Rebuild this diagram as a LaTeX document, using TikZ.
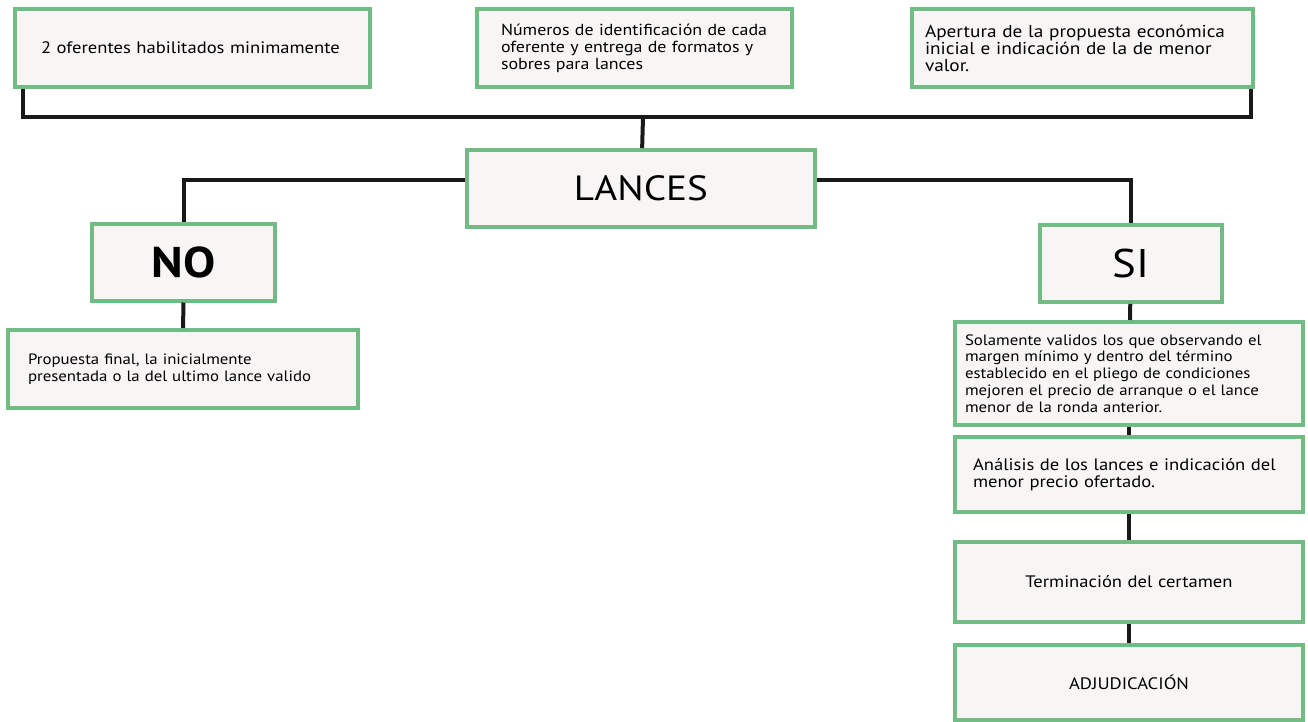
\documentclass[tikz,border=0pt]{standalone}
\usepackage{fontspec}
\setmainfont[FakeStretch=1.12]{PT Sans}
\definecolor{verde}{RGB}{112,188,132}
\definecolor{fondo}{RGB}{248,245,245}
\tikzset{
  caja/.style={draw=verde, line width=4pt, fill=fondo, inner ysep=3pt,
    font=\fontsize{15}{16.8}\selectfont},
  grande/.style={font=\fontsize{16.6}{17}\selectfont},
  linea/.style={line width=4pt, black!90},
}
\begin{document}
\begin{tikzpicture}[x=1pt, y=-1pt]
  \useasboundingbox[fill=white] (0,0) rectangle (1308,722);
  % fila superior
  \node[caja, grande, minimum height=78pt, inner xsep=26pt, text width=303pt, align=left]
    (oferentes) at (192.5,48) {2 oferentes habilitados minimamente};
  \node[caja, minimum height=78pt, inner xsep=24pt, text width=267pt, align=left,
    font=\fontsize{16}{17}\selectfont]
    (numeros) at (634.5,48) {Números de identificación de cada\\oferente y entrega de formatos y\\sobres para lances};
  \node[caja, minimum height=78pt, inner xsep=13pt, text width=315pt, align=left,
    font=\fontsize{17.2}{17}\selectfont]
    (apertura) at (1082.5,48) {Apertura de la propuesta económica\\inicial e indicación de la de menor\\valor.};
  \coordinate (union) at (643,117);
  % centro
  \node[caja, minimum width=348pt, minimum height=77pt, font=\fontsize{35}{40}\selectfont]
    (lances) at (641,188.5) {LANCES};
  \node[caja, minimum width=183pt, minimum height=77pt, font=\fontsize{43}{48}\selectfont\bfseries]
    (no) at (183.5,262) {NO};
  \node[caja, minimum width=182pt, minimum height=77pt, font=\fontsize{40}{46}\selectfont]
    (si) at (1131,263.5) {SI};
  % rama NO
  \node[caja, minimum height=78pt, inner xsep=20pt, text width=310pt, align=left]
    (propuesta) at (183,369) {Propuesta final, la inicialmente\\presentada o la del ultimo lance valido};
  % rama SI
  \node[caja, minimum height=103pt, inner xsep=10pt, text width=328pt, align=left]
    (solamente) at (1129,373.5) {Solamente validos los que observando el\\margen mínimo y dentro del término\\establecido en el pliego de condiciones\\mejoren el precio de arranque o el lance\\menor de la ronda anterior.};
  \node[caja, grande, minimum height=75pt, inner xsep=18pt, text width=312pt, align=left]
    (analisis) at (1129,474.5) {Análisis de los lances e indicación del\\menor precio ofertado.};
  \node[caja, grande, minimum height=80pt, inner xsep=12pt, text width=324pt, align=center]
    (terminacion) at (1129,582) {Terminación del certamen};
  \node[caja, grande, minimum height=75pt, inner xsep=12pt, text width=324pt, align=center]
    (adjudicacion) at (1129,682.5) {ADJUDICACIÓN};
  % conectores
  \draw[linea] ([xshift=10pt]oferentes.south west) |- (union) -| ([xshift=-4pt]apertura.south east);
  \draw[linea] (union) -- (lances);
  \draw[linea] ([yshift=8pt]lances.west) -| (no.north);
  \draw[linea] ([yshift=8pt]lances.east) -| (si.north);
  \draw[linea] (no) -- (propuesta);
  \draw[linea] (si) -- (solamente);
  \draw[linea] (solamente) -- (analisis);
  \draw[linea] (analisis) -- (terminacion);
  \draw[linea] (terminacion) -- (adjudicacion);
\end{tikzpicture}
\end{document}
